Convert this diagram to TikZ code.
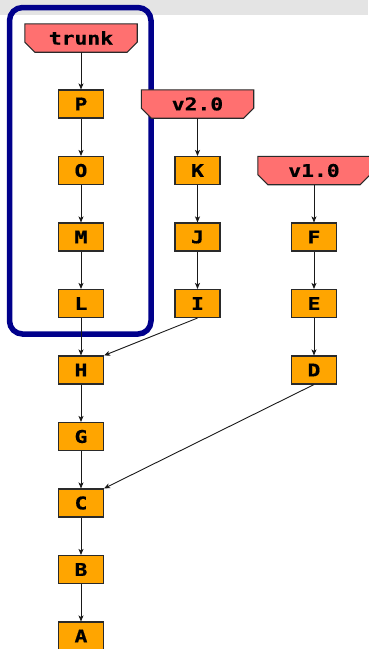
\documentclass[tikz,border=0pt]{standalone}
\usepackage{fontspec}
\newfontfamily\lblfont{DejaVu Sans Mono Bold}[FakeStretch=1.22,FakeBold=0.6]
\usetikzlibrary{arrows.meta,calc}
\pgfdeclarelayer{back}
\pgfdeclarelayer{tagbg}
\pgfsetlayers{back,tagbg,main}
\definecolor{bandgray}{HTML}{E4E4E4}
\definecolor{boxorange}{HTML}{FFA500}
\definecolor{tagred}{HTML}{FF7070}
\definecolor{framenavy}{HTML}{00008B}
\definecolor{linegray}{HTML}{2A2A2A}
\newcommand\tagnode[3]{%
  \node[tagbox] (#1) at (#2) {#3};
  \begin{pgfonlayer}{tagbg}
    \draw[tagline] (#1.north west) -- (#1.north east)
      -- ([yshift=10pt]#1.south east) -- ([xshift=-10pt]#1.south east)
      -- ([xshift=10pt]#1.south west) -- ([yshift=10pt]#1.south west) -- cycle;
  \end{pgfonlayer}}
\begin{document}
\begin{tikzpicture}[x=1pt,y=-1pt,
  lbl/.style={font=\lblfont\fontsize{17.5}{20}\selectfont},
  commit/.style={lbl, draw=linegray, fill=boxorange, minimum width=45pt,
    minimum height=28pt, inner sep=0pt, line width=1.1pt},
  tagbox/.style={lbl, minimum width=112pt, minimum height=28pt, inner sep=0pt},
  tagline/.style={draw=linegray, fill=tagred, line width=1.1pt},
  edge/.style={draw=black!90, line width=0.9pt,
    -{Stealth[length=6pt,width=5pt,inset=1.5pt]}}]
\useasboundingbox (0,0) rectangle (368,649);
\begin{pgfonlayer}{back}
  \fill[bandgray] (0,0) rectangle (368,15);
  \draw[framenavy, line width=5.5pt, rounded corners=13pt] (9.5,7.5) rectangle (151,334);
\end{pgfonlayer}
% column 1
\tagnode{trunk}{81,38}{trunk}
\node[commit] (P) at (81,104) {P};
\node[commit] (O) at (81,170.5) {O};
\node[commit] (M) at (81,237) {M};
\node[commit] (L) at (81,303.5) {L};
\node[commit] (H) at (81,370) {H};
\node[commit] (G) at (81,436.5) {G};
\node[commit] (C) at (81,503) {C};
\node[commit] (B) at (81,569.5) {B};
\node[commit] (A) at (81,636) {A};
% column 2
\tagnode{v2}{197.5,104}{v2.0}
\node[commit] (K) at (197.5,170.5) {K};
\node[commit] (J) at (197.5,237) {J};
\node[commit] (I) at (197.5,303.5) {I};
% column 3
\tagnode{v1}{314,170.5}{v1.0}
\node[commit] (F) at (314,237) {F};
\node[commit] (E) at (314,303.5) {E};
\node[commit] (D) at (314,370) {D};
% edges
\draw[edge] (trunk) -- (P);
\draw[edge] (P) -- (O);
\draw[edge] (O) -- (M);
\draw[edge] (M) -- (L);
\draw[edge] (L) -- (H);
\draw[edge] (H) -- (G);
\draw[edge] (G) -- (C);
\draw[edge] (C) -- (B);
\draw[edge] (B) -- (A);
\draw[edge] (v2) -- (K);
\draw[edge] (K) -- (J);
\draw[edge] (J) -- (I);
\draw[edge] (I.south) -- (H.north east);
\draw[edge] (v1) -- (F);
\draw[edge] (F) -- (E);
\draw[edge] (E) -- (D);
\draw[edge] (D.south) -- (C.north east);
\end{tikzpicture}
\end{document}
